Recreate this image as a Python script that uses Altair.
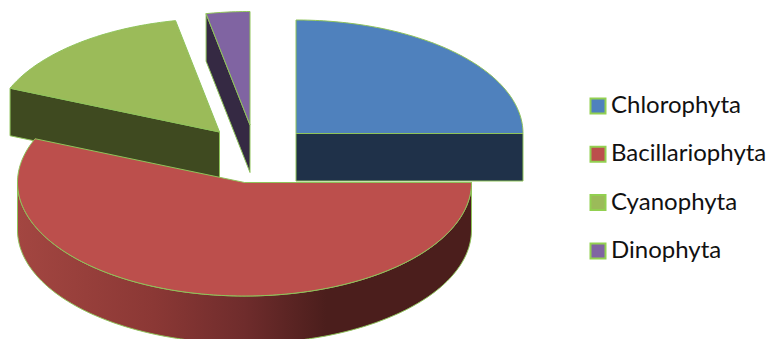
import math
import altair as alt

# Share of each phylum, in percent
names = ["Chlorophyta", "Bacillariophyta", "Cyanophyta", "Dinophyta"]
shares = [25, 56.3, 15.6, 3.1]
top_colors = ["#4f81bd", "#bc4f4c", "#9bbb59", "#8064a2"]
wall_colors = ["#1f3149", "#4b1e1c", "#3f4a20", "#352943"]
edge_color = "#8fc35a"

# Layout of the tilted pie: exploded centres, ellipse radii and slice thickness
centres = [(296, 133.5), (244.5, 182.5), (219.5, 132), (250, 125)]
rx, ry, depth = 227, 113.5, 47.5


def rim(centre, start, end, dy=0, step=1.0):
    """Points along the ellipse from start to end degrees, clockwise from the top."""
    n = max(2, int(abs(end - start) / step) + 1)
    points = []
    for i in range(n + 1):
        a = math.radians(start + (end - start) * i / n)
        points.append([centre[0] + rx * math.sin(a), centre[1] - ry * math.cos(a) + dy])
    return points


def feature(name, ring):
    ring = ring + [ring[0]]
    return {
        "type": "Feature",
        "properties": {"name": name},
        "geometry": {"type": "Polygon", "coordinates": [ring]},
    }


bounds, total = [], 0
for s in shares:
    bounds.append((total * 3.6, (total + s) * 3.6))
    total += s

tops = {}
for name, centre, (a0, a1) in zip(names, centres, bounds):
    tops[name] = feature(name, [list(centre)] + rim(centre, a0, a1))

# Flat cut faces visible on each slice
blue_c, red_c, green_c, purple_c = centres
blue_end = rim(blue_c, bounds[0][1], bounds[0][1])[0]
cut_blue = feature("wall", [list(blue_c), blue_end, [blue_end[0], blue_end[1] + depth], [blue_c[0], blue_c[1] + depth]])
green_start = rim(green_c, bounds[2][0], bounds[2][0])[0]
cut_green = feature("wall", [list(green_c), green_start, [green_start[0], green_start[1] + depth], [green_c[0], green_c[1] + depth]])
purple_start = rim(purple_c, bounds[3][0], bounds[3][0])[0]
cut_purple = feature("wall", [list(purple_c), purple_start, [purple_start[0], purple_start[1] + depth], [purple_c[0], purple_c[1] + depth]])
# Curved outer wall of the large slice
front = rim(red_c, 90, 270)
red_wall = feature("wall", front + rim(red_c, 270, 90, dy=depth))

projection = alt.Projection(type="identity", scale=1, translate=[0, 0])
color_scale = alt.Scale(domain=names, range=top_colors)


def wall_layer(shape, fill):
    return alt.Chart(alt.Data(values=[shape])).mark_geoshape(
        fill=fill, stroke=edge_color, strokeWidth=1
    ).project(**projection.to_dict())


def top_layer(name):
    return alt.Chart(alt.Data(values=[tops[name]])).mark_geoshape(
        stroke=edge_color, strokeWidth=1
    ).encode(
        color=alt.Color(
            "properties.name:N",
            scale=color_scale,
            legend=alt.Legend(
                title=None,
                orient="none",
                legendX=586,
                legendY=94,
                symbolType="square",
                symbolSize=225,
                symbolStrokeColor="#92d050",
                symbolStrokeWidth=2,
                labelFont="Lato",
                labelFontSize=24,
                labelColor="#111111",
                labelOffset=1,
                labelLimit=200,
                rowPadding=24.3,
                values=names,
            ),
        )
    ).project(**projection.to_dict())


rim_gradient = alt.LinearGradient(
    gradient="linear",
    x1=0, x2=1, y1=0, y2=0,
    stops=[
        alt.GradientStop(offset=0, color="#a34641"),
        alt.GradientStop(offset=0.3, color="#8b3835"),
        alt.GradientStop(offset=0.5, color="#6f2c2c"),
        alt.GradientStop(offset=0.68, color="#4b1e1c"),
        alt.GradientStop(offset=1, color="#4b1e1c"),
    ],
)

chart = alt.layer(
    wall_layer(cut_green, wall_colors[2]),
    top_layer("Cyanophyta"),
    wall_layer(cut_purple, wall_colors[3]),
    top_layer("Dinophyta"),
    wall_layer(cut_blue, wall_colors[0]),
    top_layer("Chlorophyta"),
    wall_layer(red_wall, rim_gradient),
    top_layer("Bacillariophyta"),
).properties(
    width=771,
    height=339,
    padding=0,
    autosize=alt.AutoSizeParams(type="none"),
    background="white",
).configure_view(stroke=None)

chart.save("out.html", embed_options={"renderer": "svg", "actions": False})
